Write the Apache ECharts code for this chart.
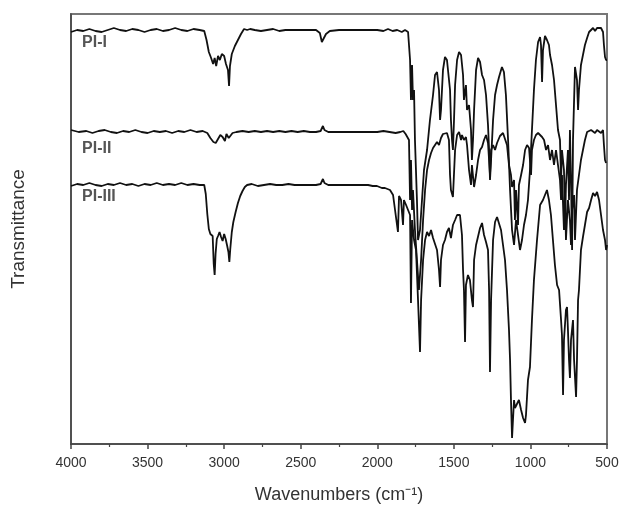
<!DOCTYPE html>
<html><head><meta charset="utf-8">
<script src="https://cdn.jsdelivr.net/npm/echarts@6/dist/echarts.min.js"></script>
<style>html,body{margin:0;padding:0;background:#fff}#c{width:620px;height:510px}</style>
</head><body><div id="c"></div>
<script>
// x tick labels (wavenumbers, cm-1)
const xTicks = [4000, 3500, 3000, 2500, 2000, 1500, 1000, 500];
const seriesNames = ['PI-I', 'PI-II', 'PI-III'];
// [wavenumber, transmittance (arbitrary, offset units)]
const piI = [[4000,412],[3960,414],[3920,413],[3880,415],[3840,413],[3800,412],[3760,414],[3720,416],[3680,414],[3640,413],[3600,415],[3560,414],[3520,412],[3480,414],[3440,415],[3400,413],[3360,414],[3320,416],[3280,414],[3240,413],[3200,415],[3160,414],[3130,413],
[3115,404],[3100,392],[3085,386],[3072,380],[3062,386],[3052,378],[3040,388],[3028,384],[3015,390],[3000,388],[2988,380],[2975,374],[2968,358],[2962,378],[2950,390],[2930,398],[2910,404],[2890,410],[2870,415],
[2850,414],[2830,415],[2800,414],[2760,413],[2720,414],[2680,415],[2640,413],[2600,414],[2550,414],[2500,414],[2450,414],[2400,414],[2375,411],[2362,402],[2350,404],[2335,410],[2310,413],[2250,414],[2200,414],[2150,414],[2100,414],[2050,414],[2000,414],[1960,413],[1930,415],[1900,413],[1870,414],[1840,412],[1819,414],
[1799,412],[1786,384],[1780,344],[1773,379],[1767,344],[1760,354],[1754,304],[1741,244],[1734,204],[1721,214],[1708,244],[1695,274],[1675,294],[1656,324],[1636,349],[1623,369],[1610,372],[1597,354],[1590,324],[1584,334],[1571,374],[1558,387],[1545,384],[1532,382],[1525,354],[1519,324],[1512,304],[1506,294],[1499,324],[1492,359],[1479,384],[1466,392],[1453,389],[1440,369],[1434,344],[1421,359],[1414,334],[1401,339],[1388,314],[1382,284],[1375,304],[1368,334],[1355,374],[1342,386],[1329,382],[1316,369],[1303,364],[1290,349],[1277,319],[1270,294],[1264,264],[1257,284],[1244,324],[1231,349],[1218,359],[1205,367],[1186,377],[1173,372],[1160,349],[1146,304],[1133,254],[1120,214],[1107,199],[1094,224],[1081,209],[1068,194],[1055,204],[1042,219],[1029,229],[1016,244],[1003,274],[990,314],[977,354],[964,384],[950,402],[937,407],[931,399],[924,362],[918,394],[905,408],[892,404],[879,399],[872,389],[859,379],[846,364],[833,339],[820,314],[807,304],[800,264],[794,294],[781,274],[774,224],[768,259],[755,294],[748,244],[742,314],[735,264],[728,194],[722,304],[709,377],[696,364],[689,334],[683,354],[670,379],[657,389],[644,399],[630,406],[617,412],[604,414],[591,416],[578,413],[565,416],[552,414],[539,416],[526,412],[520,399],[513,387],[506,384],[500,384]];

const piII = [[4000,314],[3950,312],[3900,313],[3860,311],[3820,313],[3780,314],[3740,312],[3700,311],[3660,313],[3620,312],[3580,314],[3540,312],[3500,311],[3460,313],[3420,312],[3380,313],[3340,311],[3300,313],[3260,312],[3220,314],[3180,312],[3140,313],[3110,311],[3090,306],[3070,302],[3055,301],[3040,305],[3025,309],[3010,307],[2995,303],[2985,310],[2970,306],[2960,304],[2945,311],[2920,312],[2880,313],[2840,312],[2800,313],[2760,312],[2720,313],[2680,312],[2640,313],[2600,312],[2560,313],[2520,312],[2480,313],[2440,312],[2400,312],[2370,313],[2355,318],[2345,314],[2320,312],[2280,312],[2240,312],[2200,312],[2150,312],[2100,312],[2050,312],[2000,312],[1960,313],[1920,312],[1880,311],[1850,312],[1830,313],[1815,310],
[1806,311],[1793,304],[1786,244],[1780,284],[1773,234],[1767,254],[1754,214],[1741,184],[1728,154],[1714,184],[1701,224],[1688,254],[1675,274],[1662,284],[1649,291],[1636,296],[1623,294],[1610,302],[1597,299],[1584,306],[1571,310],[1558,312],[1545,311],[1532,304],[1525,269],[1519,254],[1506,247],[1492,294],[1479,309],[1466,312],[1453,304],[1447,309],[1434,304],[1421,307],[1414,299],[1401,274],[1388,259],[1382,279],[1368,257],[1355,269],[1342,284],[1329,294],[1316,297],[1303,304],[1290,309],[1277,301],[1270,284],[1264,269],[1257,294],[1244,299],[1231,294],[1218,301],[1199,308],[1179,311],[1166,309],[1153,299],[1140,279],[1127,269],[1120,257],[1107,264],[1101,224],[1094,254],[1081,219],[1075,259],[1061,269],[1048,279],[1035,294],[1022,299],[1009,296],[996,269],[990,294],[977,304],[964,309],[950,311],[937,311],[924,307],[911,304],[898,294],[885,299],[872,284],[859,294],[846,279],[833,294],[820,279],[807,264],[800,244],[794,269],[781,214],[774,254],[768,204],[755,244],[742,224],[735,199],[728,234],[715,249],[709,204],[696,254],[683,269],[670,284],[657,294],[644,304],[630,312],[617,314],[604,314],[591,316],[578,311],[565,314],[552,315],[539,311],[526,314],[520,299],[513,284],[506,281]];

const piIII = [[4000,258],[3960,260],[3920,259],[3880,261],[3840,259],[3800,258],[3760,260],[3720,259],[3680,261],[3640,259],[3600,260],[3560,258],[3520,260],[3480,259],[3440,261],[3400,259],[3360,260],[3320,259],[3280,261],[3240,259],[3200,260],[3160,259],[3130,259],
[3120,250],[3110,230],[3100,215],[3090,210],[3075,208],[3068,180],[3062,169],[3056,190],[3048,205],[3040,208],[3030,212],[3020,207],[3010,203],[3000,210],[2990,205],[2980,198],[2972,192],[2966,182],[2960,195],[2950,212],[2940,222],[2925,232],[2910,241],[2895,248],[2880,253],[2865,257],[2850,259],
[2820,260],[2780,258],[2740,259],[2700,260],[2660,259],[2620,259],[2580,260],[2540,259],[2500,259],[2450,259],[2400,259],[2370,260],[2355,265],[2345,261],[2320,259],[2280,259],[2240,259],[2200,259],[2150,259],[2100,259],[2060,259],[2030,258],[2002,258],[1970,256],[1950,256],[1917,254],[1897,249],[1884,251],[1865,212],[1858,248],[1845,244],[1832,219],[1826,244],[1812,239],[1799,234],[1786,229],[1780,141],[1773,224],[1760,204],[1747,194],[1734,144],[1721,92],[1714,144],[1701,184],[1688,204],[1675,212],[1662,208],[1649,214],[1636,206],[1623,204],[1610,194],[1597,174],[1590,157],[1584,184],[1571,199],[1558,204],[1545,212],[1532,216],[1519,206],[1506,219],[1492,224],[1479,229],[1466,231],[1460,229],[1447,209],[1440,174],[1434,154],[1427,102],[1421,159],[1408,169],[1395,164],[1382,144],[1375,137],[1368,184],[1355,199],[1342,201],[1329,216],[1316,221],[1303,209],[1290,202],[1277,194],[1270,154],[1264,72],[1257,144],[1244,204],[1231,222],[1218,227],[1205,226],[1192,214],[1179,199],[1166,184],[1153,154],[1140,114],[1133,84],[1127,44],[1120,6],[1114,24],[1107,44],[1101,36],[1088,40],[1075,44],[1061,34],[1048,26],[1035,21],[1029,29],[1016,64],[1003,77],[990,124],[977,164],[957,204],[937,239],[918,244],[905,249],[892,254],[879,244],[866,229],[853,204],[840,179],[826,159],[813,154],[800,124],[794,109],[787,49],[781,104],[768,134],[761,137],[755,114],[748,84],[742,66],[735,104],[722,124],[715,84],[702,47],[696,84],[689,144],[683,154],[670,194],[657,207],[644,219],[630,232],[617,236],[604,244],[591,251],[578,248],[565,252],[552,244],[539,229],[526,214],[513,204],[506,194],[500,199]];

// label anchor positions in data space: [wavenumber, value]
const labelAnchors = [[3928, 401], [3928, 295], [3928, 247]];

const font = '"Liberation Sans", Arial, sans-serif';
const chart = echarts.init(document.getElementById('c'), null, {renderer: 'canvas'});
const datasets = [piI, piII, piIII];
chart.setOption({
  animation: false,
  backgroundColor: '#fff',
  grid: {left: 71, right: 13, top: 14, bottom: 66, outerBoundsMode: 'none', containLabel: false,
    show: true, borderColor: '#777', borderWidth: 2, backgroundColor: 'transparent'},
  xAxis: {
    type: 'value', inverse: true, min: 500, max: 4000, interval: 500,
    name: 'Wavenumbers (cm\u207B\u00B9)', nameLocation: 'middle', nameGap: 42,
    nameTextStyle: {fontFamily: font, fontSize: 18, color: '#333'},
    axisLine: {show: true, onZero: false, lineStyle: {color: '#444', width: 1.5}},
    axisTick: {show: true, inside: false, length: 5, lineStyle: {color: '#444', width: 1.5}},
    minorTick: {show: true, splitNumber: 2, length: 3, lineStyle: {color: '#444', width: 1.2}},
    splitLine: {show: false},
    axisLabel: {fontFamily: font, fontSize: 14, color: '#333', margin: 12,
      formatter: v => xTicks.includes(v) ? String(v) : ''}
  },
  yAxis: {
    type: 'value', min: 0, max: 430,
    name: 'Transmittance', nameLocation: 'middle', nameGap: 43,
    nameTextStyle: {fontFamily: font, fontSize: 19, color: '#333'},
    axisLine: {show: true, lineStyle: {color: '#444', width: 1.5}},
    axisTick: {show: false}, axisLabel: {show: false}, splitLine: {show: false}
  },
  series: datasets.map((d, i) => ({
    type: 'line', name: seriesNames[i], data: d, showSymbol: false,
    lineStyle: {color: '#111', width: 1.8}, itemStyle: {color: '#111'},
    markPoint: {
      symbol: 'circle', symbolSize: 0,
      label: {show: true, position: 'inside', align: 'left', verticalAlign: 'middle',
        formatter: seriesNames[i], fontFamily: font, fontSize: 16, fontWeight: 'bold', color: '#555'},
      data: [{coord: labelAnchors[i]}]
    }
  }))
});
</script></body></html>
